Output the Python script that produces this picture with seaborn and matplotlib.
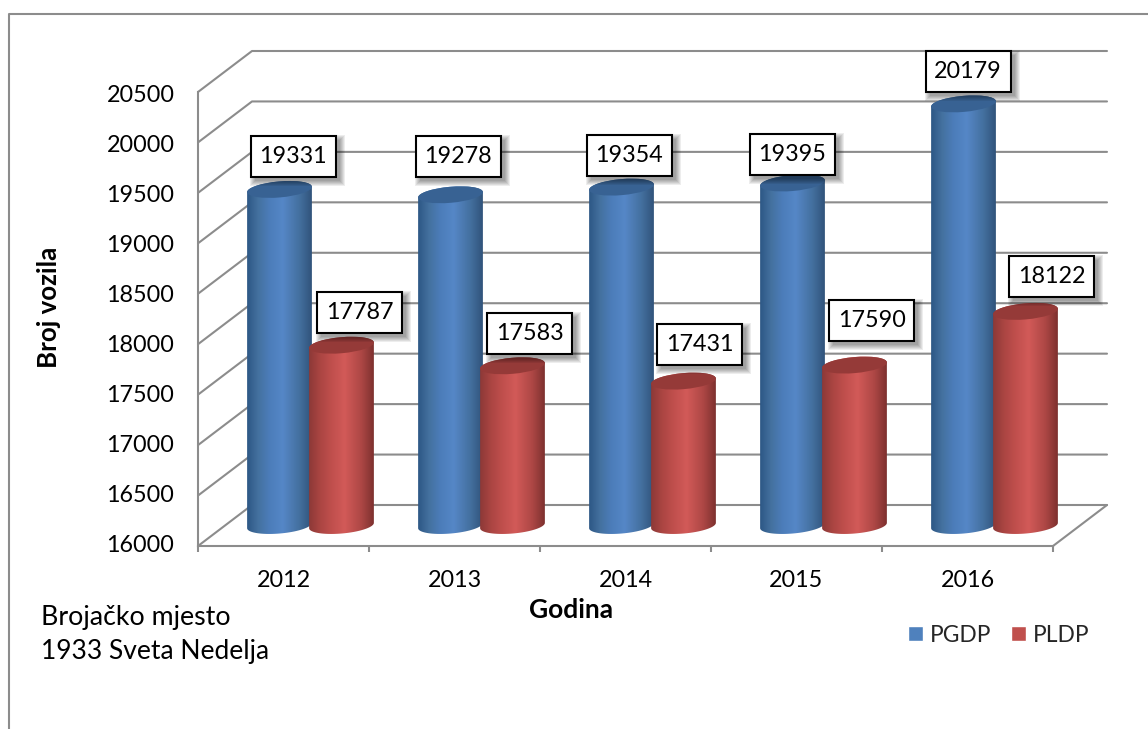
import numpy as np
import pandas as pd
import matplotlib.pyplot as plt
import seaborn as sns
from matplotlib.colors import LinearSegmentedColormap
from matplotlib.lines import Line2D
from matplotlib.patches import Ellipse, Rectangle
from matplotlib.path import Path
from matplotlib.transforms import Affine2D, IdentityTransform

# Data
years = ['2012', '2013', '2014', '2015', '2016']
pgdp = [19331, 19278, 19354, 19395, 20179]
pldp = [17787, 17583, 17431, 17590, 18122]
y_ticks = [16000, 16500, 17000, 17500, 18000, 18500, 19000, 19500, 20000, 20500]

# Label box offsets from the top of each cylinder, in pixels
pgdp_offsets = [(13.5, 32.5), (7.5, 37.8), (7.5, 32), (0, 28), (4.5, 32)]
pldp_offsets = [(18.5, 33), (17.5, 32), (16.5, 37), (17.5, 45), (26.5, 35)]

W, H = 1148, 729
GREY = '#8c8c8c'
DEPTH = (54, 41)
BAR_W, BAR_H = 65, 16
TILT = 5
BOX_W, BOX_H = 85, 41
FS_NUM = 16.8
FS_TEXT = 19

sns.set_theme(style='white')
plt.rcParams['font.family'] = ['Lato', 'DejaVu Sans']

df = pd.DataFrame({
    'Godina': years * 2,
    'Broj': pgdp + pldp,
    'Serija': ['PGDP'] * 5 + ['PLDP'] * 5,
})

fig = plt.figure(figsize=(W / 100, H / 100), dpi=100)
ax = fig.add_axes([198 / W, 1 - 546 / H, (1053 - 198) / W, (546 - 92) / H])
ax.patch.set_alpha(0)

sns.barplot(data=df, x='Godina', y='Broj', hue='Serija', width=0.725, ax=ax,
            palette=['#4F81BD', '#C0504D'], saturation=1)
ax.set_xlim(-0.5, 4.5)
ax.set_ylim(16000, 20500)
px = IdentityTransform()

# Back wall and side wall
for v in y_ticks:
    x0, y0 = ax.transData.transform((-0.5, v))
    x1, y1 = ax.transData.transform((4.5, v))
    ax.add_line(Line2D([x0, x0 + DEPTH[0], x1 + DEPTH[0]],
                       [y0, y0 + DEPTH[1], y1 + DEPTH[1]],
                       transform=px, color=GREY, lw=1.5, zorder=1, clip_on=False))
x0, y0 = ax.transData.transform((4.5, 16000))
ax.add_line(Line2D([x0, x0 + DEPTH[0]], [y0, y0 + DEPTH[1]],
                   transform=px, color=GREY, lw=1.5, zorder=1, clip_on=False))

# Axes lines and ticks
for side in ['top', 'right']:
    ax.spines[side].set_visible(False)
for side in ['left', 'bottom']:
    ax.spines[side].set_color(GREY)
    ax.spines[side].set_linewidth(1.5)
ax.set_xticks(np.arange(-0.5, 5), minor=True)
ax.tick_params(axis='x', which='minor', bottom=True, length=4.5, width=1.5, color=GREY)
ax.tick_params(axis='x', which='major', bottom=False, labelsize=FS_NUM, pad=11, labelcolor='black')
ax.set_yticks(y_ticks)
ax.tick_params(axis='y', left=False, labelsize=FS_NUM, pad=11, labelcolor='black')
# the reference labels are spaced a little tighter than the gridlines
for i, label in enumerate(ax.get_yticklabels()):
    label.set_transform(label.get_transform() + Affine2D().translate(0, 3 - i * 4 / 9))
ax.set_xlabel('Godina', fontsize=FS_TEXT, fontweight='bold', color='black')
ax.set_ylabel('Broj vozila', fontsize=FS_TEXT - 0.4, fontweight='bold', color='black')
ax.xaxis.set_label_coords((571 - 198) / (1053 - 198), (546 - 610) / (546 - 92), transform=ax.transAxes)
ax.xaxis.label.set_va('center')
ax.yaxis.set_label_coords((49 - 198) / (1053 - 198), (546 - 307) / (546 - 92), transform=ax.transAxes)
ax.yaxis.label.set_va('center')

blue_cmap = LinearSegmentedColormap.from_list('b', [(0, '#2b5583'), (0.18, '#44719f'), (0.35, '#4c7dba'),
                                                    (0.55, '#5587c7'), (0.8, '#44709f'), (1, '#2f5178')])
red_cmap = LinearSegmentedColormap.from_list('r', [(0, '#8a3836'), (0.18, '#ab4542'), (0.35, '#c04f4d'),
                                                   (0.55, '#d25a58'), (0.8, '#ad4745'), (1, '#7a2f2d')])


def ellipse_points(cx, cy, start, stop):
    t = np.radians(np.linspace(start, stop, 60))
    phi = np.radians(TILT)
    a, b = BAR_W / 2, BAR_H / 2
    xs = cx + a * np.cos(t) * np.cos(phi) - b * np.sin(t) * np.sin(phi)
    ys = cy + a * np.cos(t) * np.sin(phi) + b * np.sin(t) * np.cos(phi)
    return np.column_stack([xs, ys])


def cylinder(bar, cmap, cap_color, z):
    bar.set_visible(False)
    xc = bar.get_x() + bar.get_width() / 2
    cx, top = ax.transData.transform((xc, bar.get_height()))
    cx += DEPTH[0] / 2
    top += DEPTH[1] / 2
    bottom = ax.transData.transform((xc, 16000))[1] + DEPTH[1] / 2
    body = Path(np.vstack([ellipse_points(cx, bottom, 180, 360),
                           ellipse_points(cx, top, 0, 180)]))
    im = ax.imshow(np.linspace(0, 1, 128)[None, :], cmap=cmap, aspect='auto',
                   extent=(cx - BAR_W / 2 - 1, cx + BAR_W / 2 + 1, bottom - 12, top + 12),
                   transform=px, interpolation='bilinear', zorder=z)
    im.set_clip_box(fig.bbox)
    im.set_clip_path(body, px)
    ax.add_patch(Ellipse((cx, top), BAR_W, BAR_H, angle=TILT, facecolor=cap_color,
                         edgecolor='none', transform=px, clip_on=False, zorder=z + 0.1))
    return cx, top


def label_box(cx, top, value, offset):
    bx, by = cx + offset[0], top + offset[1]
    # soft shadow
    for k in range(6):
        ax.add_patch(Rectangle((bx - BOX_W / 2 + 4 - k, by - BOX_H / 2 - 4 - k),
                               BOX_W + 2 * k, BOX_H + 2 * k, facecolor='black', alpha=0.07,
                               edgecolor='none', transform=px, clip_on=False, zorder=8))
    ax.add_patch(Rectangle((bx - BOX_W / 2, by - BOX_H / 2), BOX_W, BOX_H, facecolor='white',
                           edgecolor='black', lw=1.5, transform=px, clip_on=False, zorder=9))
    ax.text(bx, by, str(value), transform=px, ha='center', va='center',
            fontsize=FS_NUM, color='black', zorder=10)


for i in range(len(years)):
    cx, top = cylinder(ax.containers[0][i], blue_cmap, '#386293', 3 + i * 0.5)
    label_box(cx, top, pgdp[i], pgdp_offsets[i])
    cx, top = cylinder(ax.containers[1][i], red_cmap, '#953a38', 3.2 + i * 0.5)
    label_box(cx, top, pldp[i], pldp_offsets[i])

ax.set_xlim(-0.5, 4.5)
ax.set_ylim(16000, 20500)

# Legend
sns.move_legend(ax, 'center left', bbox_to_anchor=(908 / W, 1 - 635 / H),
                bbox_transform=fig.transFigure, ncol=2, frameon=False, title=None,
                fontsize=16.4, handlelength=0.65, handleheight=0.65, handletextpad=0.3,
                columnspacing=0.87, borderpad=0, borderaxespad=0)

# Notes and outer frame
fig.text(41 / W, 1 - 617 / H, 'Brojačko mjesto', fontsize=FS_TEXT + 0.3, color='black', va='center')
fig.text(41 / W, 1 - 652 / H, '1933 Sveta Nedelja', fontsize=FS_TEXT, color='black', va='center')
fig.add_artist(Line2D([8.5, 8.5, W], [0, H - 14, H - 14], transform=px, color=GREY, lw=1.5))

fig.savefig('out.png', dpi=100)
